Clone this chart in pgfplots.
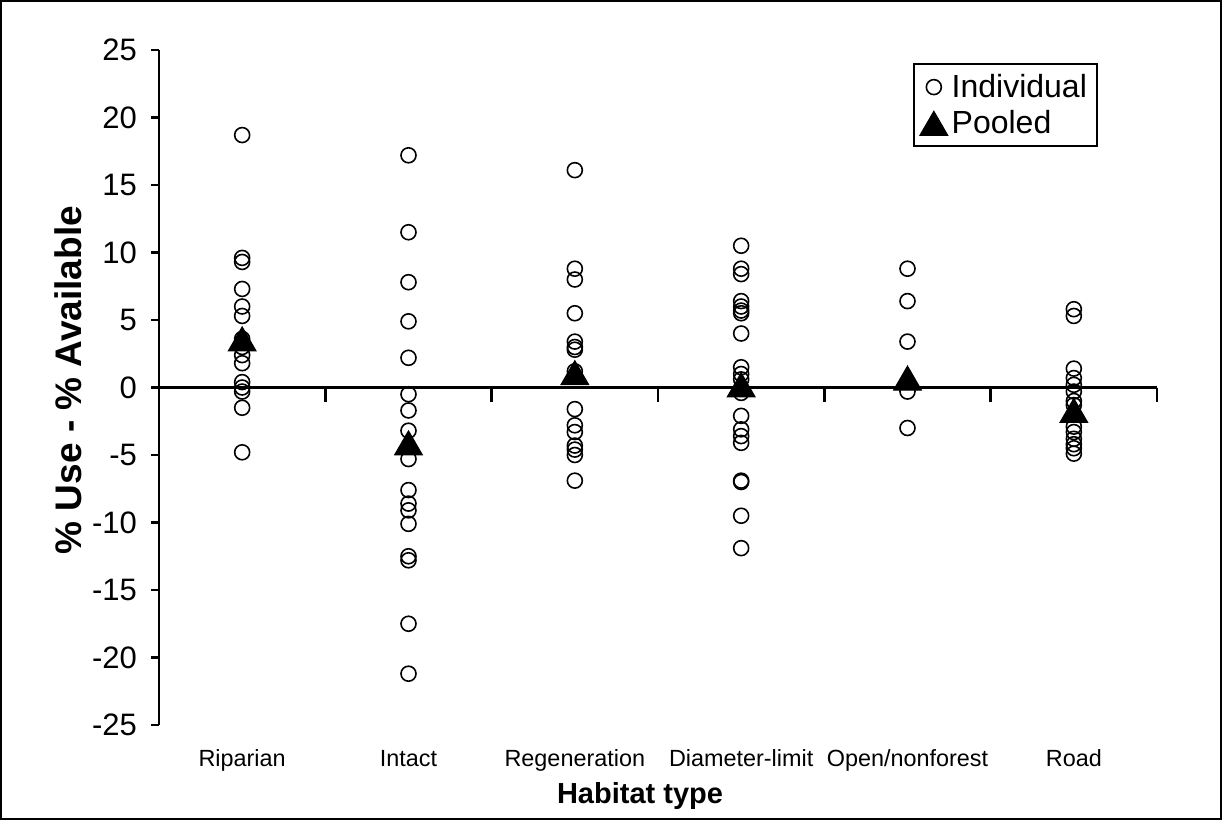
\documentclass[border=0pt]{standalone}
\usepackage{fontspec}
\setmainfont{Liberation Sans}
\usepackage{pgfplots}
\pgfplotsset{compat=1.18}
\pgfplotstableread{
x y
1 18.7
1 9.6
1 9.3
1 7.3
1 6.0
1 5.3
1 3.6
1 3.0
1 2.4
1 1.8
1 0.4
1 0.0
1 -0.3
1 -1.5
1 -4.8
2 17.2
2 11.5
2 7.8
2 4.9
2 2.2
2 -0.5
2 -1.7
2 -3.2
2 -5.3
2 -7.6
2 -8.6
2 -9.1
2 -10.1
2 -12.5
2 -12.8
2 -17.5
2 -21.2
3 16.1
3 8.8
3 8.0
3 5.5
3 3.4
3 3.0
3 2.8
3 1.2
3 0.8
3 -1.6
3 -2.8
3 -3.3
3 -4.3
3 -4.6
3 -5.0
3 -6.9
4 10.5
4 8.8
4 8.4
4 6.4
4 6.0
4 5.7
4 5.5
4 4.0
4 1.5
4 1.0
4 0.6
4 -0.4
4 -2.1
4 -3.1
4 -3.6
4 -4.1
4 -6.9
4 -7.0
4 -9.5
4 -11.9
5 8.8
5 6.4
5 3.4
5 -0.3
5 -3.0
6 5.8
6 5.3
6 1.4
6 0.7
6 0.2
6 -0.3
6 -1.0
6 -1.3
6 -2.9
6 -3.3
6 -3.8
6 -4.2
6 -4.5
6 -4.9
}\individual
\pgfplotstableread{
x y
1 3.6
2 -4.1
3 1.1
4 0.2
5 0.7
6 -1.7
}\pooled
\begin{document}
\begin{tikzpicture}
\useasboundingbox (0,0) rectangle (611bp,410bp);
\draw[line width=1bp] (0.5bp,0.5bp) rectangle (610.5bp,409.5bp);
\begin{axis}[
  at={(79.5bp,47.5bp)}, anchor=south west,
  scale only axis, width=499bp, height=337.5bp,
  xmin=0.5, xmax=6.5, ymin=-25, ymax=25,
  axis x line=bottom, axis y line=left,
  axis line style={-, line width=1.2bp, black},
  x axis line style={draw=none},
  xtick={1,2,3,4,5,6},
  xticklabels={Riparian,Intact,Regeneration,Diameter-limit,Open/nonforest,Road},
  xtick style={draw=none},
  xticklabel style={font=\fontsize{11.7bp}{14bp}\selectfont, yshift=-5bp},
  ytick={-25,-20,-15,-10,-5,0,5,10,15,20,25},
  yticklabels={-25,-20,-15,-10,-5,0,5,10,15,20,25},
  ytick style={line width=1.2bp, black},
  tick align=outside, major tick length=4bp,
  yticklabel style={font=\fontsize{15.5bp}{18bp}\selectfont, xshift=-3.5bp},
  clip=false,
  ylabel={\% Use - \% Available},
  ylabel style={font=\bfseries\fontsize{18.5bp}{21bp}\selectfont, at={(axis description cs:-0.0912,0.511)}, anchor=center, rotate=0},
  xlabel={Habitat type},
  xlabel style={font=\bfseries\fontsize{14.5bp}{17bp}\selectfont, at={(axis description cs:0.482,-0.105)}, anchor=center},
  legend style={at={(axis description cs:0.7555,0.9807)}, anchor=north west,
    draw=black, line width=1bp, font=\fontsize{16bp}{19bp}\selectfont,
    inner xsep=3bp, inner ysep=3bp, row sep=1bp},
  legend cell align=left,
]
\draw[line width=1.2bp] (axis cs:0.5,0) -- (axis cs:6.5,0);
\pgfplotsinvokeforeach{1.5,2.5,3.5,4.5,5.5,6.5}{
  \draw[line width=1.2bp] (axis cs:#1,0) -- ([yshift=-7bp]axis cs:#1,0);
}
\addplot[only marks, mark=o, mark size=3.75bp, mark options={line width=0.8bp, draw=black}] table[x=x,y=y] {\individual};
\addlegendentry{Individual}
\addplot[only marks, mark=triangle*, mark size=8bp, mark options={fill=black, draw=black, line width=0.5bp, yshift=-2bp}] table[x=x,y=y] {\pooled};
\addlegendentry{Pooled}
\end{axis}
\end{tikzpicture}
\end{document}
